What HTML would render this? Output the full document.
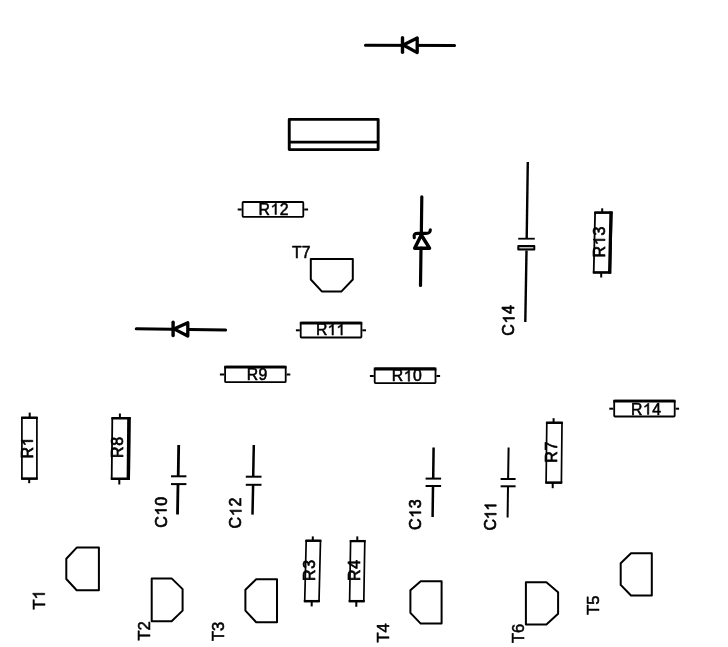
<!DOCTYPE html>
<html><head><meta charset="utf-8"><title>Component placement</title>
<style>
html,body{margin:0;padding:0;background:#fff;}
body{width:728px;height:647px;overflow:hidden;}
svg{display:block;position:absolute;left:0;top:0;}
svg *{stroke:#000;}
rect,path{fill:none;stroke-width:2.0;stroke-linejoin:round;}
line{stroke-width:2.0;}
text{font-family:"Liberation Sans",sans-serif;font-size:15.4px;fill:#000;stroke:#000;stroke-width:0.85px;letter-spacing:0.7px;stroke-linejoin:round;}
text.h{stroke-width:0.55px;font-size:15.8px;letter-spacing:0.5px;}
g.all{filter:blur(0.4px);}
</style></head><body>
<svg width="728" height="647" viewBox="0 0 728 647">
<rect x="0" y="0" width="728" height="647" style="fill:#fff;stroke:none"/>
<g class="all">
<line x1="365.5" y1="45.2" x2="454.5" y2="45.5" style="stroke-width:3.1;stroke-linecap:round"/>
<path d="M403.3,45.0 L417.2,38 V52.6 Z" style="fill:#fff;stroke-width:3.3;stroke-linejoin:round"/>
<line x1="402.5" y1="37.7" x2="402.5" y2="52.3" style="stroke-width:3.4;stroke-linecap:round"/>
<rect x="289.25" y="119.4" width="88.9" height="30.2" style="stroke-width:2.9"/>
<line x1="289" y1="142.2" x2="378.5" y2="142.2" style="stroke-width:2.8"/>
<rect x="242.6" y="202.0" width="60.7" height="14.9" rx="0.8" style="stroke-width:1.8"/>
<line x1="237.7" y1="209.5" x2="241.7" y2="209.5"/>
<line x1="304.2" y1="209.5" x2="308.1" y2="209.5"/>
<g transform="translate(258.61,214.50)"><text x="0.00" y="0" style="font-size:15.8px;stroke-width:0.55px;letter-spacing:0">R</text><path class="g1" d="M763,0 H583 V1147 Q518,1085 412,1023 Q307,961 223,930 V1104 Q374,1175 487,1276 Q600,1377 647,1472 H763 Z" transform="translate(11.91,0) scale(0.00771,-0.00771)" style="fill:#000;stroke-width:71"/><text x="21.20" y="0" style="font-size:15.8px;stroke-width:0.55px;letter-spacing:0">2</text></g>
<g transform="translate(291.93,257.50)"><text x="0.00" y="0" style="font-size:15.8px;stroke-width:0.55px;letter-spacing:0">T</text><text x="9.95" y="0" style="font-size:15.8px;stroke-width:0.55px;letter-spacing:0">7</text></g>
<path d="M310.8,259 H352.8 V279.5 L341.5,291.4 H321.8 L310.8,279.5 Z"/>
<line x1="421.8" y1="196.8" x2="421.3" y2="236" style="stroke-width:3.2;stroke-linecap:round"/>
<path d="M414.3,237.6 C413.6,234.2 414.6,233.4 418,233.4 H426 C429.2,233.4 430.2,232.6 430.3,229.8" style="fill:none;stroke-width:3.2;stroke-linecap:round"/>
<path d="M421.3,235 L429.5,248.2 H414.7 Z" style="fill:#fff;stroke-width:3.5;stroke-linejoin:round"/>
<line x1="421" y1="248" x2="420.5" y2="285.4" style="stroke-width:3.2;stroke-linecap:round"/>
<line x1="527.8" y1="162" x2="526.7" y2="238.7" style="stroke-width:2.4"/>
<line x1="518.2" y1="238.7" x2="534.8" y2="238.7" style="stroke-width:1.8"/>
<rect x="518.3" y="246" width="16" height="3.6" style="stroke-width:2;fill:#bbb"/>
<line x1="526.5" y1="250.5" x2="525.3" y2="322" style="stroke-width:2.4"/>
<g transform="translate(514.40,335.78) rotate(-90)"><text x="0.00" y="0" style="font-size:16px;stroke-width:0.7px;letter-spacing:0">C</text><path class="g1" d="M763,0 H583 V1147 Q518,1085 412,1023 Q307,961 223,930 V1104 Q374,1175 487,1276 Q600,1377 647,1472 H763 Z" transform="translate(12.25,0) scale(0.00781,-0.00781)" style="fill:#000;stroke-width:90"/><text x="21.85" y="0" style="font-size:16px;stroke-width:0.7px;letter-spacing:0">4</text></g>
<path d="M595.1,212.4 L611.7,212.4 L610.3,272.7 L593.7,272.7 Z" style="stroke-width:1.8"/>
<line x1="594.2" y1="212.7" x2="612.6" y2="212.7" style="stroke-width:2.4"/>
<line x1="592.8" y1="272.4" x2="611.2" y2="272.4" style="stroke-width:2.4"/>
<line x1="611.0" y1="211.5" x2="609.6" y2="273.6" style="stroke-width:3.2"/>
<line x1="602.2" y1="208.3" x2="602.2" y2="212.5"/>
<line x1="601.2" y1="272.6" x2="601.2" y2="277.5"/>
<g transform="translate(605.00,257.38) rotate(-90)"><text x="0.00" y="0" style="font-size:16px;stroke-width:0.7px;letter-spacing:0">R</text><path class="g1" d="M763,0 H583 V1147 Q518,1085 412,1023 Q307,961 223,930 V1104 Q374,1175 487,1276 Q600,1377 647,1472 H763 Z" transform="translate(12.25,0) scale(0.00781,-0.00781)" style="fill:#000;stroke-width:90"/><text x="21.85" y="0" style="font-size:16px;stroke-width:0.7px;letter-spacing:0">3</text></g>
<line x1="136.3" y1="328.8" x2="225.6" y2="330" style="stroke-width:3.1;stroke-linecap:round"/>
<path d="M173.9,328.9 L187.8,322.8 V336 Z" style="fill:#fff;stroke-width:3.3;stroke-linejoin:round"/>
<line x1="173.1" y1="322.2" x2="173.1" y2="335.6" style="stroke-width:3.4;stroke-linecap:round"/>
<rect x="300.7" y="322.6" width="60.7" height="14.9" rx="0.8" style="stroke-width:1.8"/>
<line x1="299.8" y1="323.1" x2="362.3" y2="323.1" style="stroke-width:2.8"/>
<line x1="295.9" y1="330.3" x2="299.8" y2="330.3"/>
<line x1="362.3" y1="330.3" x2="366.0" y2="330.3"/>
<g transform="translate(316.01,335.10)"><text x="0.00" y="0" style="font-size:15.8px;stroke-width:0.55px;letter-spacing:0">R</text><path class="g1" d="M763,0 H583 V1147 Q518,1085 412,1023 Q307,961 223,930 V1104 Q374,1175 487,1276 Q600,1377 647,1472 H763 Z" transform="translate(11.51,0) scale(0.00771,-0.00771)" style="fill:#000;stroke-width:71"/><path class="g1" d="M763,0 H583 V1147 Q518,1085 412,1023 Q307,961 223,930 V1104 Q374,1175 487,1276 Q600,1377 647,1472 H763 Z" transform="translate(20.40,0) scale(0.00771,-0.00771)" style="fill:#000;stroke-width:71"/></g>
<rect x="225.1" y="366.7" width="60.6" height="15.5" rx="0.8" style="stroke-width:1.8"/>
<line x1="224.2" y1="367.2" x2="286.6" y2="367.2" style="stroke-width:2.8"/>
<line x1="219.9" y1="374.5" x2="224.2" y2="374.5"/>
<line x1="286.6" y1="374.5" x2="290.3" y2="374.5"/>
<g transform="translate(246.65,380.10)"><text x="0.00" y="0" style="font-size:15.8px;stroke-width:0.55px;letter-spacing:0">R</text><text x="11.91" y="0" style="font-size:15.8px;stroke-width:0.55px;letter-spacing:0">9</text></g>
<rect x="374.7" y="368.5" width="60.8" height="14.6" rx="0.8" style="stroke-width:1.8"/>
<line x1="373.8" y1="369.0" x2="436.4" y2="369.0" style="stroke-width:2.8"/>
<line x1="369.9" y1="376.0" x2="373.8" y2="376.0"/>
<line x1="436.4" y1="376.0" x2="440.1" y2="376.0"/>
<g transform="translate(391.81,381.30)"><text x="0.00" y="0" style="font-size:15.8px;stroke-width:0.55px;letter-spacing:0">R</text><path class="g1" d="M763,0 H583 V1147 Q518,1085 412,1023 Q307,961 223,930 V1104 Q374,1175 487,1276 Q600,1377 647,1472 H763 Z" transform="translate(11.91,0) scale(0.00771,-0.00771)" style="fill:#000;stroke-width:71"/><text x="21.20" y="0" style="font-size:15.8px;stroke-width:0.55px;letter-spacing:0">0</text></g>
<rect x="614.2" y="400.7" width="60.5" height="15.8" rx="0.8" style="stroke-width:1.8"/>
<line x1="613.3" y1="401.2" x2="675.6" y2="401.2" style="stroke-width:2.8"/>
<line x1="609.3" y1="408.7" x2="613.3" y2="408.7"/>
<line x1="675.6" y1="408.7" x2="679.1" y2="408.7"/>
<g transform="translate(631.01,414.50)"><text x="0.00" y="0" style="font-size:15.8px;stroke-width:0.55px;letter-spacing:0">R</text><path class="g1" d="M763,0 H583 V1147 Q518,1085 412,1023 Q307,961 223,930 V1104 Q374,1175 487,1276 Q600,1377 647,1472 H763 Z" transform="translate(11.91,0) scale(0.00771,-0.00771)" style="fill:#000;stroke-width:71"/><text x="21.20" y="0" style="font-size:15.8px;stroke-width:0.55px;letter-spacing:0">4</text></g>
<path d="M21.9,417.5 L36.9,417.5 L36.9,478.8 L21.9,478.8 Z" style="stroke-width:1.7"/>
<line x1="21.0" y1="417.8" x2="37.8" y2="417.8" style="stroke-width:2.3"/>
<line x1="21.0" y1="478.5" x2="37.8" y2="478.5" style="stroke-width:2.3"/>
<line x1="29.7" y1="412.6" x2="29.7" y2="417.6"/>
<line x1="29.2" y1="478.6" x2="29.2" y2="483.2"/>
<g transform="translate(32.80,458.48) rotate(-90)"><text x="0.00" y="0" style="font-size:16px;stroke-width:0.7px;letter-spacing:0">R</text><path class="g1" d="M763,0 H583 V1147 Q518,1085 412,1023 Q307,961 223,930 V1104 Q374,1175 487,1276 Q600,1377 647,1472 H763 Z" transform="translate(12.25,0) scale(0.00781,-0.00781)" style="fill:#000;stroke-width:90"/></g>
<path d="M112.3,418.0 L129.7,418.0 L129.1,479.0 L111.7,479.0 Z" style="stroke-width:1.8"/>
<line x1="111.4" y1="418.3" x2="130.6" y2="418.3" style="stroke-width:2.4"/>
<line x1="110.8" y1="478.7" x2="130.0" y2="478.7" style="stroke-width:2.4"/>
<line x1="128.9" y1="417.1" x2="128.3" y2="479.9" style="stroke-width:3.4"/>
<line x1="119.9" y1="413.5" x2="119.9" y2="418.1"/>
<line x1="119.3" y1="478.9" x2="119.3" y2="484.5"/>
<g transform="translate(123.10,458.08) rotate(-90)"><text x="0.00" y="0" style="font-size:16px;stroke-width:0.7px;letter-spacing:0">R</text><text x="12.25" y="0" style="font-size:16px;stroke-width:0.7px;letter-spacing:0">8</text></g>
<line x1="178.7" y1="445.0" x2="178.2" y2="476.3" style="stroke-width:2.8"/>
<line x1="178.0" y1="484.1" x2="177.5" y2="514.6" style="stroke-width:2.8"/>
<line x1="171.0" y1="476.3" x2="186.4" y2="476.3" style="stroke-width:2"/>
<line x1="171.0" y1="484.1" x2="186.4" y2="484.1" style="stroke-width:2"/>
<g transform="translate(166.50,527.68) rotate(-90)"><text x="0.00" y="0" style="font-size:16px;stroke-width:0.7px;letter-spacing:0">C</text><path class="g1" d="M763,0 H583 V1147 Q518,1085 412,1023 Q307,961 223,930 V1104 Q374,1175 487,1276 Q600,1377 647,1472 H763 Z" transform="translate(12.25,0) scale(0.00781,-0.00781)" style="fill:#000;stroke-width:90"/><text x="21.85" y="0" style="font-size:16px;stroke-width:0.7px;letter-spacing:0">0</text></g>
<line x1="253.8" y1="445.0" x2="253.2" y2="476.7" style="stroke-width:2.5"/>
<line x1="253.1" y1="484.8" x2="252.5" y2="514.6" style="stroke-width:2.5"/>
<line x1="245.8" y1="476.7" x2="261.5" y2="476.7" style="stroke-width:2"/>
<line x1="245.8" y1="484.8" x2="261.5" y2="484.8" style="stroke-width:2"/>
<g transform="translate(241.40,528.38) rotate(-90)"><text x="0.00" y="0" style="font-size:16px;stroke-width:0.7px;letter-spacing:0">C</text><path class="g1" d="M763,0 H583 V1147 Q518,1085 412,1023 Q307,961 223,930 V1104 Q374,1175 487,1276 Q600,1377 647,1472 H763 Z" transform="translate(12.25,0) scale(0.00781,-0.00781)" style="fill:#000;stroke-width:90"/><text x="21.85" y="0" style="font-size:16px;stroke-width:0.7px;letter-spacing:0">2</text></g>
<line x1="433.6" y1="447.4" x2="433.2" y2="478.6" style="stroke-width:2.5"/>
<line x1="433.0" y1="486.0" x2="432.6" y2="516.9" style="stroke-width:2.5"/>
<line x1="425.6" y1="478.6" x2="441.1" y2="478.6" style="stroke-width:2"/>
<line x1="425.6" y1="486.0" x2="441.1" y2="486.0" style="stroke-width:2"/>
<g transform="translate(420.90,530.08) rotate(-90)"><text x="0.00" y="0" style="font-size:16px;stroke-width:0.7px;letter-spacing:0">C</text><path class="g1" d="M763,0 H583 V1147 Q518,1085 412,1023 Q307,961 223,930 V1104 Q374,1175 487,1276 Q600,1377 647,1472 H763 Z" transform="translate(12.25,0) scale(0.00781,-0.00781)" style="fill:#000;stroke-width:90"/><text x="21.85" y="0" style="font-size:16px;stroke-width:0.7px;letter-spacing:0">3</text></g>
<line x1="508.6" y1="447.4" x2="508.1" y2="479.0" style="stroke-width:2.0"/>
<line x1="508.0" y1="486.3" x2="507.6" y2="517.5" style="stroke-width:2.0"/>
<line x1="500.6" y1="479.0" x2="515.6" y2="479.0" style="stroke-width:2"/>
<line x1="500.6" y1="486.3" x2="515.6" y2="486.3" style="stroke-width:2"/>
<g transform="translate(496.20,530.58) rotate(-90)"><text x="0.00" y="0" style="font-size:16px;stroke-width:0.7px;letter-spacing:0">C</text><path class="g1" d="M763,0 H583 V1147 Q518,1085 412,1023 Q307,961 223,930 V1104 Q374,1175 487,1276 Q600,1377 647,1472 H763 Z" transform="translate(11.25,0) scale(0.00781,-0.00781)" style="fill:#000;stroke-width:90"/><path class="g1" d="M763,0 H583 V1147 Q518,1085 412,1023 Q307,961 223,930 V1104 Q374,1175 487,1276 Q600,1377 647,1472 H763 Z" transform="translate(19.85,0) scale(0.00781,-0.00781)" style="fill:#000;stroke-width:90"/></g>
<path d="M546.8,422.6 L562.0,422.6 L561.4,482.8 L546.1,482.8 Z" style="stroke-width:1.7"/>
<line x1="545.9" y1="422.8" x2="562.9" y2="422.8" style="stroke-width:2.3"/>
<line x1="545.3" y1="482.5" x2="562.3" y2="482.5" style="stroke-width:2.3"/>
<line x1="553.6" y1="418.2" x2="553.6" y2="422.7"/>
<line x1="552.7" y1="482.6" x2="552.7" y2="488.2"/>
<g transform="translate(557.00,462.68) rotate(-90)"><text x="0.00" y="0" style="font-size:16px;stroke-width:0.7px;letter-spacing:0">R</text><text x="12.25" y="0" style="font-size:16px;stroke-width:0.7px;letter-spacing:0">7</text></g>
<path d="M76.7,547.6 H98.9 V590.2 H76.7 L66.3,579.0 V558.7 Z"/>
<g transform="translate(44.70,609.39) rotate(-90)"><text x="0.00" y="0" style="font-size:16.6px;stroke-width:0.55px;letter-spacing:0">T</text><path class="g1" d="M763,0 H583 V1147 Q518,1085 412,1023 Q307,961 223,930 V1104 Q374,1175 487,1276 Q600,1377 647,1472 H763 Z" transform="translate(9.94,0) scale(0.00811,-0.00811)" style="fill:#000;stroke-width:68"/></g>
<path d="M171.6,578.4 H151.7 V621.3 H171.6 L182.6,610.6 V589.1 Z"/>
<g transform="translate(149.50,640.39) rotate(-90)"><text x="0.00" y="0" style="font-size:16.6px;stroke-width:0.55px;letter-spacing:0">T</text><text x="9.94" y="0" style="font-size:16.6px;stroke-width:0.55px;letter-spacing:0">2</text></g>
<path d="M256.2,579.3 H277.0 V622.3 H256.2 L245.4,610.6 V589.7 Z"/>
<g transform="translate(224.10,640.89) rotate(-90)"><text x="0.00" y="0" style="font-size:16.6px;stroke-width:0.55px;letter-spacing:0">T</text><text x="9.94" y="0" style="font-size:16.6px;stroke-width:0.55px;letter-spacing:0">3</text></g>
<path d="M306.2,540.5 L320.5,540.5 L319.0,601.4 L304.7,601.4 Z" style="stroke-width:1.7"/>
<line x1="305.3" y1="540.8" x2="321.4" y2="540.8" style="stroke-width:2.3"/>
<line x1="303.8" y1="601.1" x2="319.9" y2="601.1" style="stroke-width:2.3"/>
<line x1="312.8" y1="536.4" x2="312.8" y2="540.6"/>
<line x1="311.7" y1="601.2" x2="311.7" y2="606.4"/>
<g transform="translate(315.20,580.88) rotate(-90)"><text x="0.00" y="0" style="font-size:16px;stroke-width:0.7px;letter-spacing:0">R</text><text x="12.25" y="0" style="font-size:16px;stroke-width:0.7px;letter-spacing:0">3</text></g>
<path d="M350.6,540.9 L364.8,540.9 L363.8,601.4 L349.6,601.4 Z" style="stroke-width:1.7"/>
<line x1="349.7" y1="541.1" x2="365.7" y2="541.1" style="stroke-width:2.3"/>
<line x1="348.7" y1="601.1" x2="364.7" y2="601.1" style="stroke-width:2.3"/>
<line x1="357.3" y1="536.4" x2="357.3" y2="541.0"/>
<line x1="356.3" y1="601.2" x2="356.3" y2="606.8"/>
<g transform="translate(360.30,581.08) rotate(-90)"><text x="0.00" y="0" style="font-size:16px;stroke-width:0.7px;letter-spacing:0">R</text><text x="12.25" y="0" style="font-size:16px;stroke-width:0.7px;letter-spacing:0">4</text></g>
<path d="M420.7,581.2 H441.6 V623.6 H420.7 L410.4,612.9 V590.3 Z"/>
<g transform="translate(389.40,642.39) rotate(-90)"><text x="0.00" y="0" style="font-size:16.6px;stroke-width:0.55px;letter-spacing:0">T</text><text x="9.94" y="0" style="font-size:16.6px;stroke-width:0.55px;letter-spacing:0">4</text></g>
<path d="M546.4,582.2 H525.9 V624.6 H546.4 L558.1,613.8 V592.2 Z"/>
<g transform="translate(523.70,642.99) rotate(-90)"><text x="0.00" y="0" style="font-size:16.6px;stroke-width:0.55px;letter-spacing:0">T</text><text x="9.94" y="0" style="font-size:16.6px;stroke-width:0.55px;letter-spacing:0">6</text></g>
<path d="M631.0,553.3 H651.8 V595.5 H631.0 L620.7,584.9 V563.3 Z"/>
<g transform="translate(599.40,614.69) rotate(-90)"><text x="0.00" y="0" style="font-size:16.6px;stroke-width:0.55px;letter-spacing:0">T</text><text x="9.94" y="0" style="font-size:16.6px;stroke-width:0.55px;letter-spacing:0">5</text></g>
</g>
</svg>
</body></html>
